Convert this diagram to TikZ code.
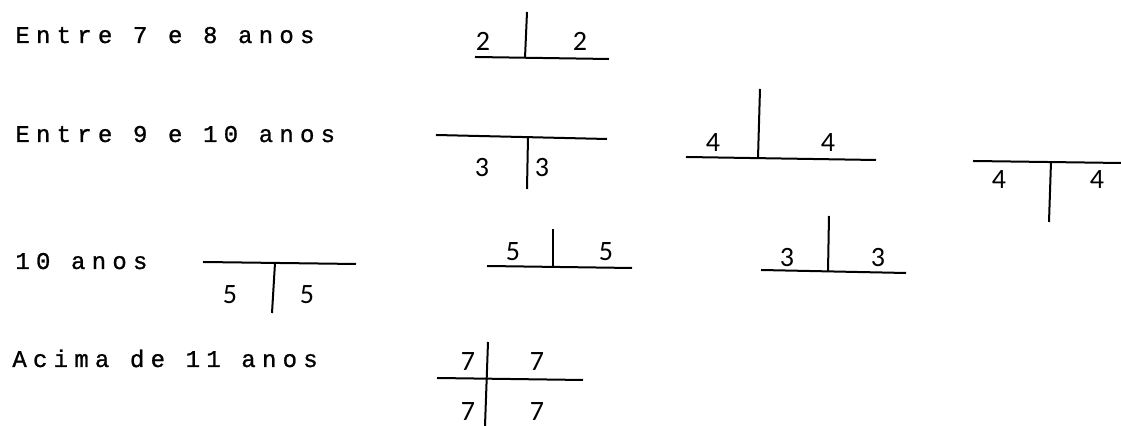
\documentclass[tikz,border=0pt]{standalone}
\usepackage{fontspec}
\setmainfont{Liberation Mono}[LetterSpace=26,FakeBold=1]
\newfontfamily\digitos{Carlito}
\tikzset{
  idade/.style={anchor=base west,inner sep=0pt,font=\fontsize{12}{14}\selectfont},
  num/.style={inner sep=0pt,font=\digitos\fontsize{14}{16}\selectfont},
  traco/.style={line width=1pt}
}

\begin{document}
\begin{tikzpicture}[x=0.5pt,y=-0.5pt]
\useasboundingbox (0,0) rectangle (1121,426);
% faixas de idade
\node[idade] (e78) at (15,43) {Entre 7 e 8 anos};
\node[idade] (e910) at (15,142) {Entre 9 e 10 anos};
\node[idade] (e10) at (15,269) {10 anos};
\node[idade] (e11) at (12,367) {Acima de 11 anos};
% 7 a 8 anos
\draw[traco] (475,57) -- (609,59);
\draw[traco] (527,12) -- (525,58);
\node[num] (a1) at (483,41) {2};
\node[num] (a2) at (580,41) {2};
% 9 a 10 anos
\draw[traco] (436,135) -- (607,139);
\draw[traco] (528,137) -- (527,189);
\node[num] (b1) at (482,168) {3};
\node[num] (b2) at (542,168) {3};
\draw[traco] (686,157) -- (876,160);
\draw[traco] (760,89) -- (758,158);
\node[num] (c1) at (713,143) {4};
\node[num] (c2) at (828,143) {4};
\draw[traco] (973,161) -- (1121,163);
\draw[traco] (1051,162) -- (1049,222);
\node[num] (d1) at (999,180) {4};
\node[num] (d2) at (1097,180) {4};
% 10 anos
\draw[traco] (203,262) -- (356,264);
\draw[traco] (275,263) -- (272,313);
\node[num] (f1) at (230,295) {5};
\node[num] (f2) at (307,295) {5};
\draw[traco] (487,266) -- (632,268);
\draw[traco] (553,229) -- (553,267);
\node[num] (g1) at (513,252) {5};
\node[num] (g2) at (606,252) {5};
\draw[traco] (761,270) -- (906,273);
\draw[traco] (829,216) -- (828,272);
\node[num] (h1) at (787,258) {3};
\node[num] (h2) at (878,258) {3};
% acima de 11 anos
\draw[traco] (437,378) -- (583,380);
\draw[traco] (488,342) -- (485,426);
\node[num] (k1) at (468,362) {7};
\node[num] (k2) at (537,362) {7};
\node[num] (k3) at (468,412) {7};
\node[num] (k4) at (537,412) {7};
\end{tikzpicture}
\end{document}
